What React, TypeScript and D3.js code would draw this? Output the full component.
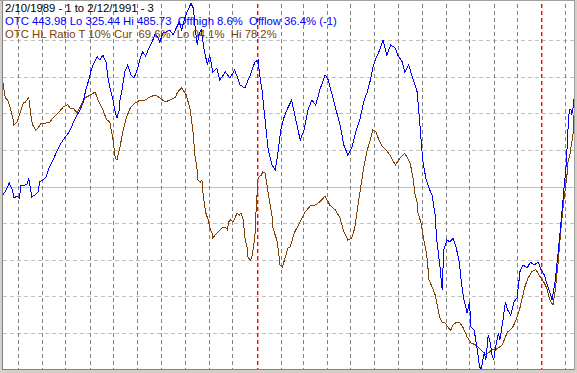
import React from "react";
import * as d3 from "d3";

const W = 577;
const H = 373;

const startDate = new Date(1989, 1, 10);
const endDate = new Date(1991, 1, 12);

const headerLine1 = "2/10/1989 - 1 to 2/12/1991 - 3";
const headerLine2 = "OTC 443.98 Lo 325.44 Hi 485.73  Offhigh 8.6%  Offlow 36.4% (-1)";
const headerLine3 = "OTC HL Ratio T 10% Cur  69.6%  Lo 04.1%  Hi 78.2%";

const otcLo = 325.44;
const otcHi = 485.73;
const ratioTicks = [10, 20, 30, 40, 50, 60, 70, 80, 90];

// days since 2/10/1989
const otcDays = [
  0, 4, 8, 12, 14, 18, 21, 23, 28, 31, 33, 37, 41, 45, 47, 51, 55, 59, 63, 67, 71, 73, 77, 82, 86, 90, 95, 99,
  103, 106, 110, 113, 117, 121, 124, 128, 132, 135, 137, 141, 144, 146, 149, 150, 153, 156, 160, 164, 168, 172,
  176, 179, 183, 187, 191, 195, 199, 201, 205, 209, 214, 218, 222, 226, 229, 233, 237, 241, 244, 246, 249, 251,
  254, 258, 262, 265, 269, 274, 278, 285, 291, 297, 304, 310, 317, 323, 327, 329, 332, 336, 340, 345, 349, 353,
  356, 360, 365, 370, 376, 381, 386, 391, 396, 401, 406, 413, 417, 422, 427, 432, 437, 442, 447, 453, 458, 463,
  467, 471, 474, 478, 483, 487, 492, 497, 503, 506, 512, 515, 520, 526, 531, 535, 538, 542, 546, 550, 554, 556,
  560, 563, 565, 569, 573, 577, 581, 585, 588, 591, 595, 598, 600, 604, 608, 611, 613, 617, 619, 622, 624, 627,
  629, 632, 635, 637, 641, 644, 647, 651, 655, 659, 663, 667, 672, 676, 681, 686, 690, 694, 697, 701, 704, 708,
  712, 715, 719, 722, 723, 724, 726, 728, 729, 731, 732,
];
const otcValues = [
  401.9, 404.1, 407.1, 404.1, 400.6, 401.4, 400.6, 406.2, 406.2, 406.7, 409.3, 401.0, 401.9, 403.2, 407.6, 408.4,
  409.7, 413.7, 416.3, 419.4, 422.4, 423.8, 425.9, 428.1, 430.3, 433.4, 436.9, 439.1, 442.6, 447.8, 452.2, 456.6,
  460.1, 462.3, 461.0, 463.1, 460.1, 452.2, 449.1, 443.4, 437.8, 435.6, 439.1, 443.4, 448.7, 455.7, 458.8, 454.4,
  453.1, 456.6, 461.8, 464.5, 462.7, 466.2, 468.8, 472.3, 470.6, 468.8, 472.8, 473.2, 474.1, 471.9, 474.9, 477.6,
  474.1, 479.3, 482.8, 485.73, 483.7, 476.3, 467.5, 471.9, 474.1, 465.3, 458.8, 463.1, 455.7, 457.4, 452.2, 455.7,
  453.1, 456.6, 450.0, 448.7, 454.4, 460.1, 461.0, 454.4, 447.8, 434.7, 421.5, 415.0, 412.8, 421.5, 430.3, 435.6,
  439.9, 443.4, 433.8, 425.9, 430.3, 439.1, 443.4, 441.2, 447.8, 454.4, 452.2, 445.6, 439.1, 432.5, 423.7, 419.4,
  422.4, 430.3, 435.6, 443.4, 446.9, 452.2, 457.4, 461.8, 465.3, 469.7, 463.1, 467.5, 466.2, 463.1, 460.1, 455.7,
  458.8, 452.2, 446.9, 430.3, 417.2, 409.3, 404.9, 401.9, 393.1, 382.2, 371.2, 360.3, 377.8, 382.2, 381.3, 383.0,
  378.7, 372.5, 362.5, 355.9, 350.2, 355.0, 344.1, 342.8, 334.0, 326.6, 325.44, 333.1, 329.6, 340.6, 338.4, 331.8,
  329.6, 336.2, 341.5, 338.4, 347.1, 355.0, 351.5, 349.3, 355.0, 356.8, 369.0, 371.2, 369.9, 372.5, 371.2, 372.5,
  369.0, 366.8, 363.3, 359.4, 355.9, 364.7, 377.8, 388.7, 404.0, 415.0, 421.5, 429.0, 439.1, 439.5, 436.9, 440.4,
  443.98,
];

const ratioDays = [
  0, 3, 6, 9, 13, 14, 18, 22, 26, 29, 33, 36, 38, 42, 45, 49, 54, 60, 64, 71, 77, 83, 86, 90, 95, 99, 105, 112,
  118, 122, 128, 133, 137, 141, 144, 146, 150, 154, 158, 163, 169, 176, 182, 188, 195, 201, 208, 214, 221, 224,
  229, 235, 240, 244, 246, 249, 250, 253, 255, 256, 258, 260, 263, 266, 268, 269, 272, 276, 281, 285, 288, 289,
  292, 295, 298, 300, 303, 305, 308, 310, 313, 314, 317, 319, 321, 323, 324, 326, 327, 331, 333, 336, 338, 340,
  342, 345, 346, 351, 353, 355, 358, 362, 365, 368, 374, 381, 387, 394, 400, 406, 413, 419, 426, 432, 437, 442,
  447, 451, 455, 459, 463, 467, 471, 474, 478, 482, 486, 491, 496, 503, 509, 515, 522, 526, 528, 531, 532, 536,
  538, 540, 542, 544, 545, 546, 550, 554, 556, 558, 560, 563, 567, 571, 574, 577, 582, 586, 590, 595, 600, 606,
  609, 615, 619, 622, 627, 631, 635, 640, 644, 647, 653, 656, 659, 663, 665, 669, 673, 678, 683, 688, 694, 697,
  701, 705, 708, 712, 715, 719, 723, 724, 727, 729, 731, 732,
];
const ratioValues = [
  78.2, 74.2, 73.6, 71.7, 68.2, 66.8, 67.6, 70.3, 72.8, 73.1, 74.4, 69.0, 66.8, 65.4, 66.0, 67.3, 67.3, 67.6,
  68.7, 70.1, 71.7, 72.3, 71.4, 71.4, 70.1, 71.7, 74.2, 75.0, 75.8, 73.6, 70.9, 68.2, 67.6, 62.7, 57.8, 57.2,
  60.8, 65.4, 68.7, 71.4, 72.8, 73.6, 73.6, 74.4, 75.0, 74.2, 73.1, 73.6, 74.4, 75.8, 76.9, 75.0, 70.9, 64.1,
  58.6, 54.5, 51.8, 51.2, 51.8, 49.0, 45.5, 42.8, 40.9, 38.1, 37.3, 35.9, 36.8, 37.6, 38.7, 38.9, 38.1, 40.3,
  40.9, 40.3, 41.7, 42.8, 42.2, 42.8, 40.9, 36.2, 33.2, 30.7, 29.9, 30.7, 33.2, 36.8, 41.7, 49.0, 52.3, 53.1,
  54.0, 53.7, 51.0, 48.2, 45.5, 41.7, 38.7, 35.4, 32.7, 28.6, 28.0, 30.7, 33.2, 33.5, 37.6, 40.3, 43.0, 44.7,
  44.9, 45.8, 47.4, 44.9, 43.6, 41.4, 37.6, 35.4, 35.9, 38.7, 44.9, 50.4, 55.9, 60.0, 62.7, 65.4, 64.9, 62.7,
  61.1, 60.0, 58.6, 55.9, 57.8, 59.1, 56.4, 51.8, 48.2, 45.5, 42.8, 40.0, 37.3, 34.8, 32.7, 29.9, 27.2, 24.5,
  22.6, 20.4, 18.2, 16.3, 14.1, 13.0, 12.7, 11.4, 10.8, 12.2, 13.0, 12.7, 11.4, 8.9, 7.3, 6.7, 6.2, 4.8, 4.1,
  4.5, 5.4, 5.4, 5.9, 6.7, 8.9, 10.3, 11.4, 12.7, 14.4, 17.1, 19.0, 22.6, 25.0, 26.7, 27.3, 25.6, 23.6, 22.3,
  19.0, 17.6, 21.7, 29.9, 38.1, 46.3, 53.1, 56.4, 59.1, 61.9, 64.6, 69.6,
];

export default function App() {
  const left = 3;
  const right = 574;
  const top = 3.4;
  const bottom = 369.6;

  const x = d3.scaleTime().domain([startDate, endDate]).range([left, right]);
  const yOtc = d3.scaleLinear().domain([otcLo, otcHi]).range([bottom, top]);
  const yRatio = d3.scaleLinear().domain([0, 100]).range([bottom, top]);

  const dayToDate = (d: number) => d3.timeDay.offset(startDate, d);

  const otcPts = otcDays.map((d, i) => [x(dayToDate(d)), yOtc(otcValues[i])] as [number, number]);
  const ratioPts = ratioDays.map((d, i) => [x(dayToDate(d)), yRatio(ratioValues[i])] as [number, number]);
  const line = d3.line<[number, number]>().x((p) => p[0]).y((p) => p[1]);

  const months = d3.timeMonth
    .range(d3.timeMonth.ceil(startDate), endDate)
    .filter((m) => m.getMonth() !== 0);
  const years = d3.timeYear.range(d3.timeYear.ceil(startDate), endDate);

  return (
    <svg
      width={W}
      height={H}
      style={{ position: "fixed", left: 0, top: 0, display: "block" }}
      fontFamily="'Liberation Sans', Arial, sans-serif"
    >
      <rect x={0} y={0} width={W} height={H} fill="#ffffff" />
      {ratioTicks.map((t) => {
        const yy = Math.round(yRatio(t)) + 0.5;
        return (
          <line
            key={"h" + t}
            x1={left}
            x2={right}
            y1={yy}
            y2={yy}
            stroke="#c0c0c0"
            strokeWidth={1}
            strokeDasharray={t === 50 ? undefined : "4,3"}
            shapeRendering="crispEdges"
          />
        );
      })}
      {months.map((m, i) => {
        const xx = Math.round(x(m)) + 0.5;
        return (
          <line
            key={"v" + i}
            x1={xx}
            x2={xx}
            y1={4}
            y2={bottom}
            stroke="#808080"
            strokeWidth={1}
            strokeDasharray="4,3"
            shapeRendering="crispEdges"
          />
        );
      })}
      {years.map((m, i) => (
        <rect
          key={"y" + i}
          x={Math.round(x(m))}
          y={4}
          width={1.4}
          height={bottom - 4}
          fill="url(#redDash)"
        />
      ))}
      <defs>
        <pattern id="redDash" patternUnits="userSpaceOnUse" x={0} y={4} width={4} height={7}>
          <rect x={0} y={0} width={4} height={4} fill="#ff0000" />
        </pattern>
      </defs>
      <path d={line(ratioPts) || ""} fill="none" stroke="#804000" strokeWidth={1} shapeRendering="crispEdges" />
      <path d={line(otcPts) || ""} fill="none" stroke="#0000ff" strokeWidth={1} shapeRendering="crispEdges" />
      <text x={5} y={12} fontSize={11.3} fill="#000000">{headerLine1}</text>
      <text x={5} y={25} fontSize={11.3} fill="#0000ff" style={{ whiteSpace: "pre" }}>{headerLine2}</text>
      <text x={5} y={38} fontSize={11.3} fill="#804000" style={{ whiteSpace: "pre" }}>{headerLine3}</text>
      {/* frame */}
      <rect x={0} y={0} width={2} height={H} fill="#d4d0c8" />
      <rect x={2} y={0} width={1} height={370} fill="#808080" />
      <rect x={0} y={0} width={W} height={1} fill="#a0a0a0" />
      <rect x={0} y={370} width={W} height={3} fill="#d4d0c8" />
      <rect x={2} y={369} width={573} height={1} fill="#808080" />
      <rect x={574} y={0} width={1} height={370} fill="#a0a0a0" />
      <rect x={575} y={0} width={2} height={H} fill="#d4d0c8" />
    </svg>
  );
}
